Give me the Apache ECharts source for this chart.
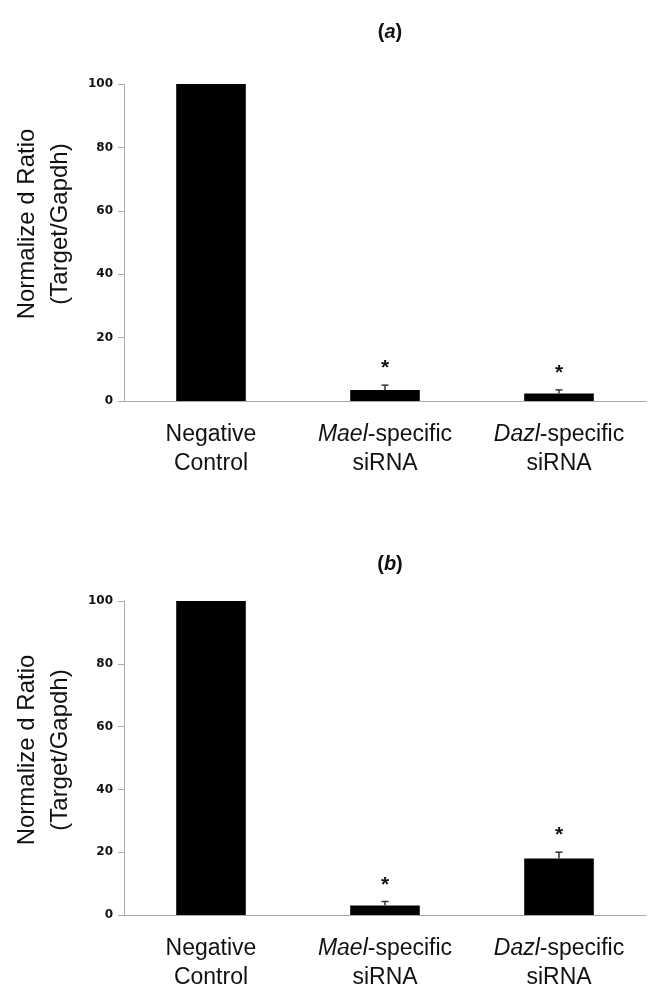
<!DOCTYPE html>
<html>
<head>
<meta charset="utf-8">
<script src="https://cdn.jsdelivr.net/npm/echarts@6/dist/echarts.min.js"></script>
<style>
  html, body { margin: 0; padding: 0; background: #fff; }
  #chart { width: 649px; height: 992px; }
</style>
</head>
<body>
<div id="chart"></div>
<script>
// categories (rich text marks the gene names in italics)
const categories = [
  "Negative\nControl",
  "{i|Mael}-specific\nsiRNA",
  "{i|Dazl}-specific\nsiRNA"
];
// panel (a)
const ratioA = [100, 3.5, 2.4];
const errorA = [0, 1.5, 1.1];
// panel (b)
const ratioB = [100, 3.0, 18];
const errorB = [0, 1.3, 2.0];
const stars = ["", "*", "*"];
const yTicks = [0, 20, 40, 60, 80, 100];

const chartDom = document.getElementById("chart");
let myChart = echarts.init(chartDom);
let option;

const labelFont = "'Liberation Sans', Arial, sans-serif";

function renderError(params, api) {
  const idx = api.value(0);
  const val = api.value(1);
  const err = api.value(2);
  const base = api.coord([idx, val]);
  const top = api.coord([idx, val + err]);
  const children = [];
  if (err > 0) {
    children.push({
      type: "line",
      shape: { x1: base[0], y1: base[1], x2: top[0], y2: top[1] },
      style: { stroke: "#333", lineWidth: 1.5 }
    });
    children.push({
      type: "line",
      shape: { x1: top[0] - 3.5, y1: top[1], x2: top[0] + 3.5, y2: top[1] },
      style: { stroke: "#333", lineWidth: 1.5 }
    });
  }
  if (stars[idx]) {
    children.push({
      type: "text",
      x: top[0],
      y: top[1] - 6,
      style: {
        text: stars[idx],
        fill: "#111",
        font: "bold 21px " + labelFont,
        align: "center",
        verticalAlign: "bottom"
      }
    });
  }
  return { type: "group", children: children };
}

function makeX(gridIndex) {
  return {
    type: "category",
    gridIndex: gridIndex,
    data: categories,
    axisLine: { lineStyle: { color: "#aaa", width: 1 } },
    axisTick: { show: false },
    axisLabel: {
      interval: 0,
      hideOverlap: false,
      margin: 19,
      color: "#111",
      fontFamily: labelFont,
      fontSize: 23,
      lineHeight: 29,
      rich: {
        i: { fontStyle: "italic", fontFamily: labelFont, fontSize: 23, lineHeight: 29, color: "#111" }
      }
    }
  };
}

function makeY(gridIndex) {
  return {
    type: "value",
    gridIndex: gridIndex,
    min: yTicks[0],
    max: yTicks[yTicks.length - 1],
    interval: yTicks[1] - yTicks[0],
    axisLine: { show: true, lineStyle: { color: "#aaa", width: 1 } },
    axisTick: { show: true, length: 6, lineStyle: { color: "#aaa" } },
    splitLine: { show: false },
    axisLabel: {
      margin: 11,
      color: "#111",
      fontFamily: "'DejaVu Sans', Verdana, sans-serif",
      fontWeight: "bold",
      fontSize: 12
    }
  };
}

function makeTitle(letter, top) {
  return {
    text: "{p|(}{i|" + letter + "}{p|)}",
    left: 385,
    top: top,
    textAlign: "center",
    textStyle: {
      rich: {
        p: { fontFamily: labelFont, fontSize: 20, fontWeight: "bold", color: "#111" },
        i: { fontFamily: labelFont, fontSize: 20, fontWeight: "bold", fontStyle: "italic", color: "#111" }
      }
    }
  };
}

function yName(cy) {
  return {
    type: "text",
    x: 44,
    y: cy,
    rotation: Math.PI / 2,
    style: {
      text: "Normalize d Ratio\n(Target/Gapdh)",
      font: "24px " + labelFont,
      fill: "#111",
      align: "center",
      verticalAlign: "middle",
      lineHeight: 33
    }
  };
}

option = {
  backgroundColor: "#fff",
  animation: false,
  title: [makeTitle("a", 17), makeTitle("b", 549)],
  grid: [
    { left: 124, width: 522, top: 84, height: 317 },
    { left: 124, width: 522, top: 601, height: 317 }
  ],
  xAxis: [makeX(0), makeX(1)],
  yAxis: [makeY(0), makeY(1)],
  graphic: [yName(224), yName(750)],
  series: [
    {
      type: "bar",
      xAxisIndex: 0,
      yAxisIndex: 0,
      data: ratioA,
      barWidth: "40%",
      itemStyle: { color: "#000" }
    },
    {
      type: "custom",
      xAxisIndex: 0,
      yAxisIndex: 0,
      renderItem: renderError,
      data: ratioA.map((v, i) => [i, v, errorA[i]]),
      z: 3
    },
    {
      type: "bar",
      xAxisIndex: 1,
      yAxisIndex: 1,
      data: ratioB,
      barWidth: "40%",
      itemStyle: { color: "#000" }
    },
    {
      type: "custom",
      xAxisIndex: 1,
      yAxisIndex: 1,
      renderItem: renderError,
      data: ratioB.map((v, i) => [i, v, errorB[i]]),
      z: 3
    }
  ]
};

option && myChart.setOption(option);
</script>
</body>
</html>
